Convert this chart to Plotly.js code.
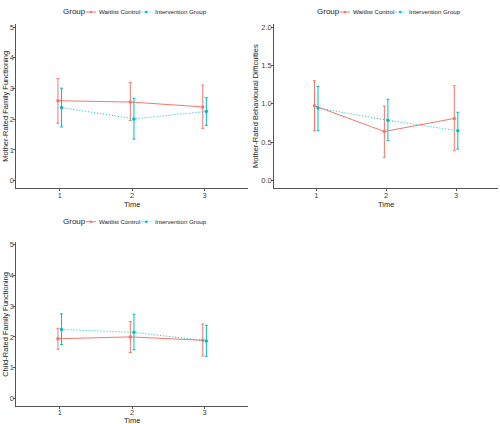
<!DOCTYPE html>
<html>
<head>
<meta charset="utf-8">
<script src="https://cdn.plot.ly/plotly-3.0.1.min.js"></script>
<style>html,body{margin:0;padding:0;background:#fff;}#chart{width:500px;height:424px;}</style>
</head>
<body>
<div id="chart"></div>
<script>
// ---- Data ----
const time = [1, 2, 3];
const groupNames = ["Waitlist Control", "Intervention Group"];

// Mother-Rated Family Functioning
const mfWaitMean = [2.60, 2.56, 2.40];
const mfWaitHi   = [3.32, 3.19, 3.11];
const mfWaitLo   = [1.87, 1.96, 1.70];
const mfIntMean  = [2.38, 2.01, 2.25];
const mfIntHi    = [3.01, 2.68, 2.70];
const mfIntLo    = [1.75, 1.35, 1.80];

// Mother-Rated Behavioural Difficulties
const bdWaitMean = [0.975, 0.64, 0.81];
const bdWaitHi   = [1.30, 0.97, 1.235];
const bdWaitLo   = [0.65, 0.305, 0.39];
const bdIntMean  = [0.945, 0.785, 0.65];
const bdIntHi    = [1.225, 1.06, 0.89];
const bdIntLo    = [0.65, 0.52, 0.41];

// Child-Rated Family Functioning
const cfWaitMean = [1.94, 2.00, 1.89];
const cfWaitHi   = [2.28, 2.50, 2.42];
const cfWaitLo   = [1.60, 1.49, 1.38];
const cfIntMean  = [2.24, 2.15, 1.87];
const cfIntHi    = [2.75, 2.74, 2.38];
const cfIntLo    = [1.75, 1.58, 1.37];

const ffTicks = [0, 1, 2, 3, 4, 5];
const bdTicks = [0, 0.5, 1, 1.5, 2];
const yTitles = ["Mother-Rated Family Functioning", "Mother-Rated Behavioural Difficulties", "Child-Rated Family Functioning"];
const xTitle = "Time";
const legendTitle = "Group";

// ---- Styling ----
const RED = "#F8766D", BLUE = "#00BFC4";
const COLORS = [RED, BLUE];
const DASHES = ["solid", "1px,2px"];
const FONT = "Liberation Sans, Arial, sans-serif";
const dodge = 0.025;

function series(mean, hi, lo, gi, panel) {
  const color = COLORS[gi];
  const sfx = panel === 1 ? "" : String(panel);
  return {
    type: "scatter", mode: "lines+markers",
    name: groupNames[gi],
    x: time.map(t => t + (gi === 0 ? -dodge : dodge)),
    y: mean,
    xaxis: "x" + sfx, yaxis: "y" + sfx,
    showlegend: false,
    line: {color: color, width: 1, dash: DASHES[gi]},
    marker: {color: color, size: 3.5},
    error_y: {type: "data", symmetric: false,
      array: hi.map((h, i) => h - mean[i]),
      arrayminus: lo.map((l, i) => mean[i] - l),
      color: color, thickness: 1, width: 1.5}
  };
}

const data = [
  series(mfWaitMean, mfWaitHi, mfWaitLo, 0, 1),
  series(mfIntMean, mfIntHi, mfIntLo, 1, 1),
  series(bdWaitMean, bdWaitHi, bdWaitLo, 0, 2),
  series(bdIntMean, bdIntHi, bdIntLo, 1, 2),
  series(cfWaitMean, cfWaitHi, cfWaitLo, 0, 3),
  series(cfIntMean, cfIntHi, cfIntLo, 1, 3)
];

const W = 500, H = 424;
const px = v => v / W, py = v => 1 - v / H;

function xax(domain, anchor, standoff) {
  return {domain: domain, anchor: anchor, range: [0.4, 3.6], tickvals: time, ticktext: time.map(String),
    showline: true, linecolor: "#555", linewidth: 1, ticks: "outside", ticklen: 2, tickcolor: "#555",
    showgrid: false, zeroline: false, fixedrange: true, ticklabelstandoff: standoff,
    tickfont: {family: FONT, size: 7.5, color: "#444"}};
}
function yax(domain, anchor, range, tickvals, fmt) {
  return {domain: domain, anchor: anchor, range: range, tickvals: tickvals, tickformat: fmt,
    showline: true, linecolor: "#555", linewidth: 1, ticks: "outside", ticklen: 2, tickcolor: "#555",
    showgrid: false, zeroline: false, fixedrange: true, ticklabelstandoff: -2,
    tickfont: {family: FONT, size: 7.5, color: "#444"}};
}

const topY = [py(188.3), py(24)];
const botY = [py(406), py(241.7)];
const leftX = [px(16.3), px(248)];
const rightX = [px(274.3), px(498)];

const annotations = [];
const shapes = [];
function txt(text, x, y, opts) {
  annotations.push(Object.assign({text: text, x: px(x), y: py(y), xref: "paper", yref: "paper",
    showarrow: false, xanchor: "center", yanchor: "middle", borderpad: 0,
    font: {family: FONT, size: 7.5, color: "#222"}}, opts || {}));
}
// axis titles
txt(yTitles[0], 4.8, 106, {textangle: -90});
txt(yTitles[1], 255, 106, {textangle: -90});
txt(yTitles[2], 4.8, 324, {textangle: -90});
txt(xTitle, 132, 204, {font: {family: FONT, size: 7.5, color: "#222"}});
txt(xTitle, 386, 204, {font: {family: FONT, size: 7.5, color: "#222"}});
txt(xTitle, 132, 420.5, {font: {family: FONT, size: 7.5, color: "#222"}});

// legends (one per panel, as in the reference)
function legendAt(cx, cy) {
  txt(legendTitle, cx - 70, cy, {xanchor: "left", font: {family: FONT, size: 8, color: "#222"}});
  const keys = [[cx - 46, cx - 36], [cx + 9.5, cx + 19]];
  const labels = [cx - 34, cx + 22];
  keys.forEach((k, gi) => {
    shapes.push({type: "line", xref: "paper", yref: "paper", x0: px(k[0]), x1: px(k[1]), y0: py(cy), y1: py(cy),
      line: {color: COLORS[gi], width: 1, dash: DASHES[gi]}});
    const mx = (k[0] + k[1]) / 2;
    shapes.push({type: "circle", xref: "paper", yref: "paper", x0: px(mx - 1.3), x1: px(mx + 1.3),
      y0: py(cy + 1.3), y1: py(cy - 1.3), fillcolor: COLORS[gi], line: {width: 0}});
    txt(groupNames[gi], labels[gi], cy, {xanchor: "left", font: {family: FONT, size: 6.2, color: "#222"}});
  });
}
legendAt(132, 12);
legendAt(386, 12);
legendAt(132, 221.7);

const layout = {
  width: W, height: H,
  margin: {l: 0, r: 0, t: 0, b: 0},
  paper_bgcolor: "#fff", plot_bgcolor: "#fff",
  showlegend: false,
  xaxis: xax(leftX, "y", -2),
  yaxis: yax(topY, "x", [-0.25, 5.1], ffTicks, "d"),
  xaxis2: xax(rightX, "y2", -2),
  yaxis2: yax(topY, "x2", [-0.1, 2.04], bdTicks, ".1f"),
  xaxis3: xax(leftX, "y3", -3),
  yaxis3: yax(botY, "x3", [-0.25, 5.1], ffTicks, "d"),
  annotations: annotations,
  shapes: shapes
};

Plotly.newPlot("chart", data, layout, {displayModeBar: false, staticPlot: true});
</script>
</body>
</html>
